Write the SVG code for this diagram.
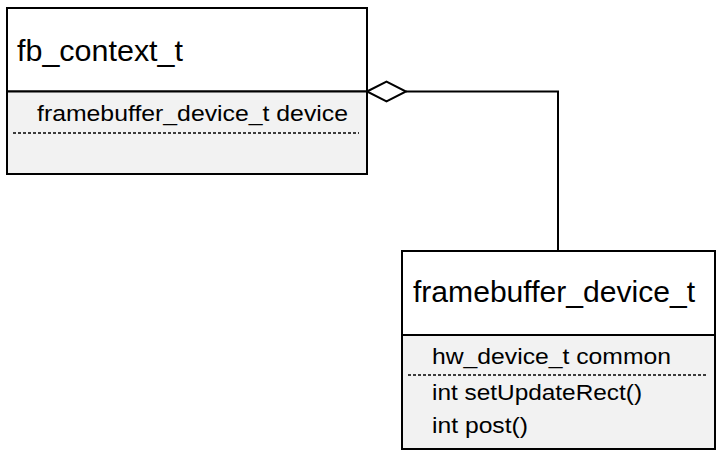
<svg xmlns="http://www.w3.org/2000/svg" width="726" height="457" viewBox="0 0 726 457">
<style>
.box{fill:#ffffff;stroke:#000;stroke-width:2}
.comp{fill:#f2f2f2;stroke:#000;stroke-width:2}
.dash{stroke:#000;stroke-width:1.3;stroke-dasharray:3,2;fill:none}
.title{font-family:"Liberation Sans",Arial,sans-serif;font-size:30px;fill:#000}
.attr{font-family:"Liberation Sans",Arial,sans-serif;font-size:22px;fill:#000}
.conn{stroke:#000;stroke-width:2;fill:none}
</style>
<rect width="726" height="457" fill="#ffffff"/>
<g id="fb_context_t">
<rect class="box" x="7" y="8" width="360" height="83.5"/>
<rect class="comp" x="7" y="91.5" width="360" height="82.5"/>
<text class="title" x="17" y="61" textLength="166" lengthAdjust="spacingAndGlyphs">fb_context_t</text>
<text class="attr" x="37" y="121" textLength="311" lengthAdjust="spacingAndGlyphs">framebuffer_device_t device</text>
<line class="dash" x1="13" y1="133" x2="359" y2="133"/>
</g>
<g id="framebuffer_device_t">
<rect class="box" x="402" y="251" width="313" height="84"/>
<rect class="comp" x="402" y="335" width="313" height="114"/>
<text class="title" x="413" y="302" textLength="282" lengthAdjust="spacingAndGlyphs">framebuffer_device_t</text>
<text class="attr" x="432" y="364" textLength="239" lengthAdjust="spacingAndGlyphs">hw_device_t common</text>
<line class="dash" x1="408" y1="375" x2="707" y2="375"/>
<text class="attr" x="432" y="400" textLength="210" lengthAdjust="spacingAndGlyphs">int setUpdateRect()</text>
<text class="attr" x="432" y="433" textLength="96" lengthAdjust="spacingAndGlyphs">int post()</text>
</g>
<g id="connectors">
<polyline class="conn" points="406,91.5 558,91.5 558,251"/>
<polygon class="conn" style="fill:#ffffff" points="367,91.5 386.5,81.5 406,91.5 386.5,101.5"/>
</g>
</svg>
